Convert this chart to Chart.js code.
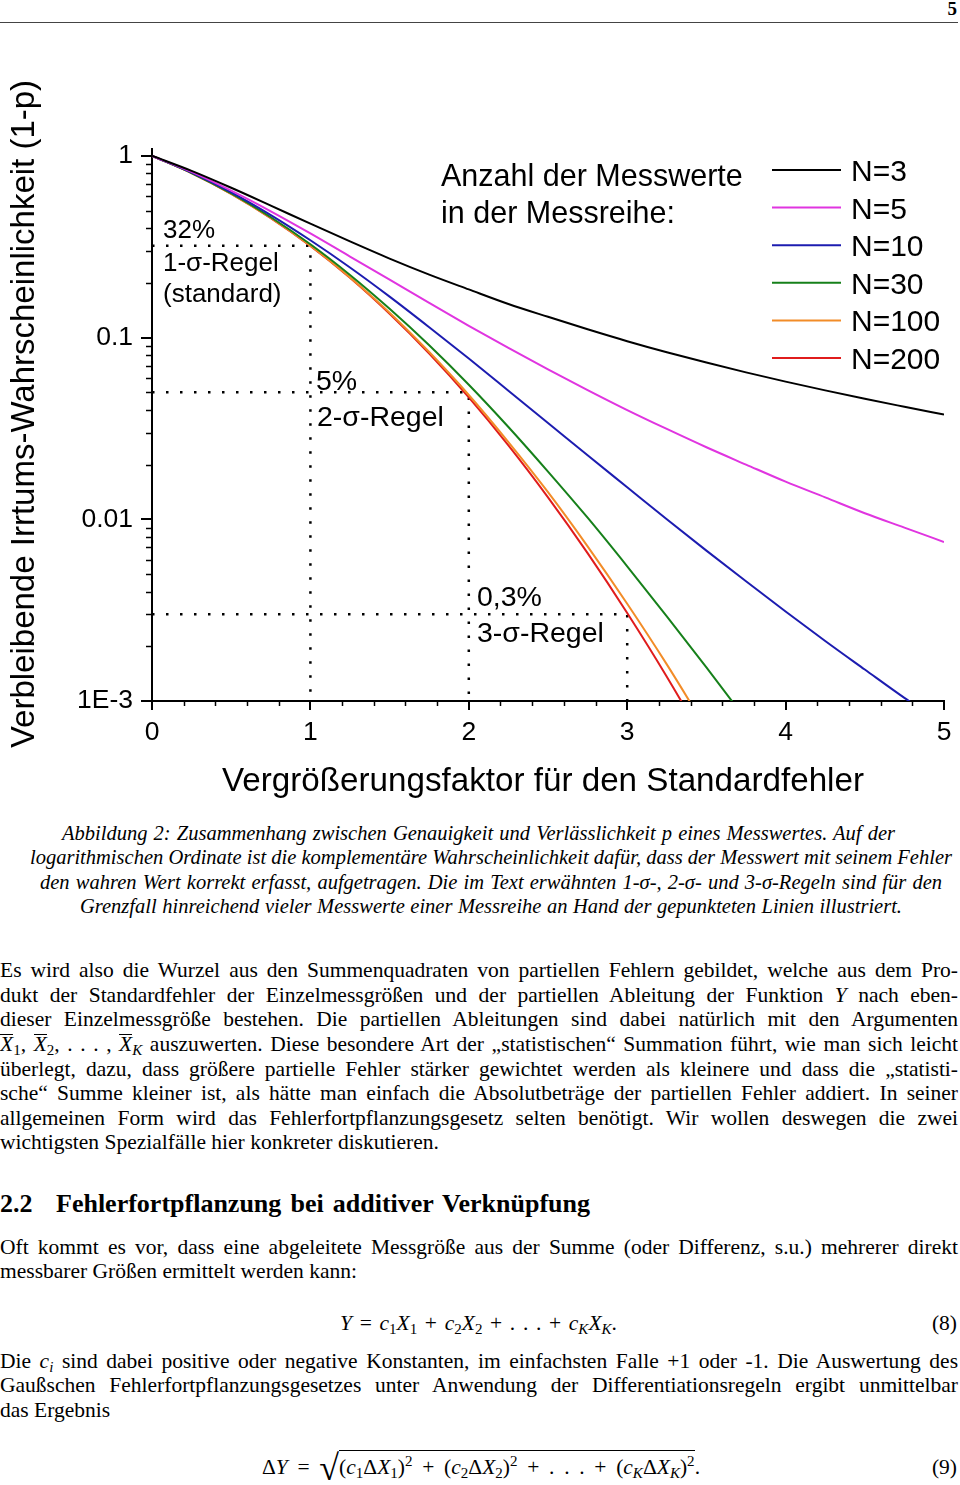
<!DOCTYPE html>
<html lang="de">
  <head>
    <meta charset="UTF-8" />
    <title>Abbildung 2 - Irrtumswahrscheinlichkeit</title>
    <script src="https://cdn.jsdelivr.net/npm/chart.js"></script>
    <style>
      body {
        margin: 0;
        width: 960px;
        height: 1485px;
        position: relative;
        background: #fff;
        color: #000;
        font-family: "Liberation Serif", "Times New Roman", serif;
        overflow: hidden;
      }

      #chartBox {
        position: absolute;
        left: 0;
        top: 0;
        width: 960px;
        height: 815px;
      }

      .ln {
        position: absolute;
        white-space: nowrap;
        font-size: 21.5px;
        line-height: 24px;
      }

      .cap {
        font-size: 20.5px;
        font-style: italic;
      }

      sub {
        font-size: 70%;
        vertical-align: -0.25em;
        line-height: 0;
      }

      sup {
        font-size: 70%;
        vertical-align: 0.5em;
        line-height: 0;
      }

      .xbar {
        display: inline-block;
        line-height: 0.85;
        border-top: 1px solid #000;
        font-style: italic;
      }
    </style>
  </head>
  <body>
    <div style="position:absolute;right:3px;top:-2px;font:bold 19px 'Liberation Serif',serif;">5</div>
    <div style="position:absolute;left:0;top:22px;width:958px;height:1px;background:#444;"></div>

    <div id="chartBox"><canvas id="errChart" width="960" height="815"></canvas></div>

    <!-- Bildunterschrift -->
    <div class="ln cap" data-w="833" style="left:62px;top:820.6px;">Abbildung 2: Zusammenhang zwischen Genauigkeit und Verlässlichkeit p eines Messwertes. Auf der</div>
    <div class="ln cap" data-w="922" style="left:30px;top:845.1px;">logarithmischen Ordinate ist die komplementäre Wahrscheinlichkeit dafür, dass der Messwert mit seinem Fehler</div>
    <div class="ln cap" data-w="902" style="left:40px;top:869.6px;">den wahren Wert korrekt erfasst, aufgetragen. Die im Text erwähnten 1-σ-, 2-σ- und 3-σ-Regeln sind für den</div>
    <div class="ln cap" data-w="822" style="left:80px;top:894.1px;">Grenzfall hinreichend vieler Messwerte einer Messreihe an Hand der gepunkteten Linien illustriert.</div>

    <!-- Fliesstext -->
    <div class="ln" data-w="958" style="left:0;top:958.2px;">Es wird also die Wurzel aus den Summenquadraten von partiellen Fehlern gebildet, welche aus dem Pro-</div>
    <div class="ln" data-w="958" style="left:0;top:982.8px;">dukt der Standardfehler der Einzelmessgrößen und der partiellen Ableitung der Funktion <i>Y</i> nach eben-</div>
    <div class="ln" data-w="958" style="left:0;top:1007.4px;">dieser Einzelmessgröße bestehen. Die partiellen Ableitungen sind dabei natürlich mit den Argumenten</div>
    <div class="ln" data-w="958" style="left:0;top:1032px;"><span class="xbar">X</span><sub>1</sub>, <span class="xbar">X</span><sub>2</sub>, . . . , <span class="xbar">X</span><sub><i>K</i></sub> auszuwerten. Diese besondere Art der „statistischen“ Summation führt, wie man sich leicht</div>
    <div class="ln" data-w="958" style="left:0;top:1056.6px;">überlegt, dazu, dass größere partielle Fehler stärker gewichtet werden als kleinere und dass die „statisti-</div>
    <div class="ln" data-w="958" style="left:0;top:1081.2px;">sche“ Summe kleiner ist, als hätte man einfach die Absolutbeträge der partiellen Fehler addiert. In seiner</div>
    <div class="ln" data-w="958" style="left:0;top:1105.8px;">allgemeinen Form wird das Fehlerfortpflanzungsgesetz selten benötigt. Wir wollen deswegen die zwei</div>
    <div class="ln" style="left:0;top:1130.4px;">wichtigsten Spezialfälle hier konkreter diskutieren.</div>

    <div class="ln" style="left:0;top:1190px;font-size:26px;line-height:28px;font-weight:bold;">2.2</div>
    <div class="ln" data-w="534" style="left:56px;top:1190px;font-size:26px;line-height:28px;font-weight:bold;">Fehlerfortpflanzung bei additiver Verknüpfung</div>

    <div class="ln" data-w="958" style="left:0;top:1234.5px;">Oft kommt es vor, dass eine abgeleitete Messgröße aus der Summe (oder Differenz, s.u.) mehrerer direkt</div>
    <div class="ln" style="left:0;top:1259.1px;">messbarer Größen ermittelt werden kann:</div>

    <div class="ln" data-w="277" style="left:340px;top:1310.5px;"><i>Y</i> = <i>c</i><sub>1</sub><i>X</i><sub>1</sub> + <i>c</i><sub>2</sub><i>X</i><sub>2</sub> + . . . + <i>c</i><sub><i>K</i></sub><i>X</i><sub><i>K</i></sub>.</div>
    <div class="ln" style="right:3px;top:1310.5px;">(8)</div>

    <div class="ln" data-w="958" style="left:0;top:1348.5px;">Die <i>c</i><sub><i>i</i></sub> sind dabei positive oder negative Konstanten, im einfachsten Falle +1 oder -1. Die Auswertung des</div>
    <div class="ln" data-w="958" style="left:0;top:1373.1px;">Gaußschen Fehlerfortpflanzungsgesetzes unter Anwendung der Differentiationsregeln ergibt unmittelbar</div>
    <div class="ln" style="left:0;top:1397.7px;">das Ergebnis</div>

    <div class="ln" data-w="438" style="left:262px;top:1454.5px;">Δ<i>Y</i> = <span style="font-size:36px;vertical-align:-6px;">√</span><span style="border-top:1px solid #000;padding-top:4px;">(<i>c</i><sub>1</sub>Δ<i>X</i><sub>1</sub>)<sup>2</sup> + (<i>c</i><sub>2</sub>Δ<i>X</i><sub>2</sub>)<sup>2</sup> + . . . + (<i>c</i><sub><i>K</i></sub>Δ<i>X</i><sub><i>K</i></sub>)<sup>2</sup></span>.</div>
    <div class="ln" style="right:3px;top:1454.5px;">(9)</div>

    <script>
      const xFactor = [0, 0.25, 0.5, 0.75, 1, 1.25, 1.5, 1.75, 2, 2.25, 2.5, 2.75, 3, 3.25, 3.5, 3.75, 4, 4.25, 4.5, 4.75, 5];

      const pN3 = [1, 0.826, 0.667, 0.532, 0.423, 0.338, 0.272, 0.222, 0.184, 0.153, 0.130, 0.111, 0.0955, 0.0830, 0.0728, 0.0643, 0.0572, 0.0512, 0.0460, 0.0416, 0.0377];
      const pN5 = [1, 0.815, 0.643, 0.495, 0.374, 0.279, 0.208, 0.155, 0.116, 0.0876, 0.0668, 0.0514, 0.0399, 0.0314, 0.0249, 0.0200, 0.0161, 0.0132, 0.0108, 0.0090, 0.0075];
      const pN10 = [1, 0.808, 0.629, 0.472, 0.343, 0.243, 0.168, 0.114, 0.0766, 0.0510, 0.0339, 0.0225, 0.0150, 0.0100, 0.00672, 0.00456, 0.00311, 0.00214, 0.00149, 0.00104, 0.00074];
      const pN30 = [1, 0.804, 0.621, 0.459, 0.326, 0.221, 0.144, 0.0907, 0.0550, 0.0322, 0.0183, 0.0102, 0.00551, 0.00292, 0.00153, 0.00079, 0.00040, null, null, null, null];
      const pN100 = [1, 0.803, 0.618, 0.455, 0.320, 0.214, 0.137, 0.0832, 0.0483, 0.0266, 0.0141, 0.0071, 0.00343, 0.00159, 0.00070, 0.00030, null, null, null, null, null];
      const pN200 = [1, 0.803, 0.617, 0.454, 0.319, 0.213, 0.135, 0.0816, 0.0468, 0.0255, 0.0132, 0.00651, 0.00305, 0.00136, 0.00057, 0.00022, null, null, null, null, null];

      const seriesLabels = ["N=3", "N=5", "N=10", "N=30", "N=100", "N=200"];
      const seriesColors = ["#000000", "#e035e0", "#1c1cb0", "#16801a", "#f28c28", "#e01c1c"];
      const seriesValues = [pN3, pN5, pN10, pN30, pN100, pN200];

      // gepunktete Linien fuer die 1-, 2- und 3-sigma-Regel
      const ruleLevels = [0.32, 0.05, 0.003];
      const ruleFactors = [1, 2, 3];

      const yMin = 0.001;
      const yMax = 1.09;
      const yTickValues = [1, 0.1, 0.01, 0.001];
      const yTickLabels = ["1", "0.1", "0.01", "1E-3"];

      const yMinorTicks = [];
      [0.001, 0.01, 0.1].forEach((d) => {
        for (let k = 2; k <= 9; k++) yMinorTicks.push(d * k);
      });
      const xMinorTicks = [];
      for (let i = 1; i < 25; i++) if (i % 5 !== 0) xMinorTicks.push(i / 5);

      const sans = '"Liberation Sans", Arial, sans-serif';
      Chart.defaults.font.family = sans;
      Chart.defaults.color = "#000";

      const curveSets = seriesValues.map((vals, i) => ({
        label: seriesLabels[i],
        data: xFactor.map((x, j) => ({ x: x, y: vals[j] })),
        borderColor: seriesColors[i],
        borderWidth: 2,
        pointRadius: 0,
        cubicInterpolationMode: "monotone",
        fill: false,
      }));

      const ruleSets = ruleLevels.map((lvl, i) => ({
        label: "",
        data: [
          { x: 0, y: lvl },
          { x: ruleFactors[i], y: lvl },
          { x: ruleFactors[i], y: yMin },
        ],
        borderColor: "#000",
        borderWidth: 2.5,
        borderDash: [2.5, 11.5],
        pointRadius: 0,
        tension: 0,
        fill: false,
      }));

      // Texte im Diagramm: [text, x, baseline, fontsize]
      const notes = [
        ["32%", 163, 238, 26],
        ["1-σ-Regel", 163, 271, 26],
        ["(standard)", 163, 302, 26],
        ["5%", 316, 390, 28.5],
        ["2-σ-Regel", 317, 426, 28.5],
        ["0,3%", 477, 606, 28.5],
        ["3-σ-Regel", 477, 642, 28.5],
        ["Anzahl der Messwerte", 441, 186, 30.5],
        ["in der Messreihe:", 441, 223, 30.5],
      ];

      const extras = {
        id: "extras",
        afterDraw(chart) {
          const ctx = chart.ctx;
          const xs = chart.scales.x;
          const ys = chart.scales.y;
          ctx.save();

          // kleine Teilstriche
          ctx.strokeStyle = "#000";
          ctx.lineWidth = 1.5;
          yMinorTicks.forEach((v) => {
            const py = Math.round(ys.getPixelForValue(v)) + 0.5;
            ctx.beginPath();
            ctx.moveTo(xs.left - 6, py);
            ctx.lineTo(xs.left, py);
            ctx.stroke();
          });
          xMinorTicks.forEach((v) => {
            const px = Math.round(xs.getPixelForValue(v)) + 0.5;
            ctx.beginPath();
            ctx.moveTo(px, ys.bottom);
            ctx.lineTo(px, ys.bottom + 5);
            ctx.stroke();
          });

          // Legende
          ctx.textAlign = "left";
          ctx.textBaseline = "alphabetic";
          ctx.font = "30px " + sans;
          curveSets.forEach((ds, i) => {
            const ly = 170 + i * 37.6;
            ctx.strokeStyle = ds.borderColor;
            ctx.lineWidth = 2;
            ctx.beginPath();
            ctx.moveTo(772, ly);
            ctx.lineTo(841, ly);
            ctx.stroke();
            ctx.fillStyle = "#000";
            ctx.fillText(ds.label, 851, ly + 11);
          });

          // Beschriftungen
          ctx.fillStyle = "#000";
          notes.forEach((n) => {
            ctx.font = n[3] + "px " + sans;
            ctx.fillText(n[0], n[1], n[2]);
          });

          // Achsentitel
          ctx.font = "33.2px " + sans;
          ctx.textAlign = "center";
          ctx.fillText("Vergrößerungsfaktor für den Standardfehler", 543, 791);
          ctx.translate(34, 414);
          ctx.rotate(-Math.PI / 2);
          ctx.font = "33px " + sans;
          ctx.fillText("Verbleibende Irrtums-Wahrscheinlichkeit (1-p)", 0, 0);

          ctx.restore();
        },
      };

      new Chart(document.getElementById("errChart"), {
        type: "line",
        data: { datasets: curveSets.concat(ruleSets) },
        options: {
          responsive: false,
          animation: false,
          devicePixelRatio: 1,
          layout: { padding: { top: 149, right: 16, left: 0, bottom: 0 } },
          plugins: {
            legend: { display: false },
            tooltip: { enabled: false },
          },
          scales: {
            x: {
              type: "linear",
              min: 0,
              max: 5,
              ticks: {
                stepSize: 1,
                padding: 7,
                maxRotation: 0,
                font: { size: 26.5 },
                color: "#000",
              },
              grid: {
                display: true,
                drawOnChartArea: false,
                drawTicks: true,
                tickLength: 9,
                color: "#000",
                lineWidth: 2,
              },
              border: { display: true, color: "#000", width: 2 },
              afterFit: (s) => {
                s.height = 114;
              },
            },
            y: {
              type: "logarithmic",
              min: yMin,
              max: yMax,
              afterBuildTicks: (s) => {
                s.ticks = yTickValues.map((v) => ({ value: v }));
              },
              ticks: {
                padding: 8,
                font: { size: 26.5 },
                color: "#000",
                callback: (v) => yTickLabels[yTickValues.indexOf(v)],
              },
              grid: {
                display: true,
                drawOnChartArea: false,
                drawTicks: true,
                tickLength: 11,
                color: "#000",
                lineWidth: 2,
              },
              border: { display: true, color: "#000", width: 2 },
              afterFit: (s) => {
                s.width = 152;
              },
            },
          },
        },
        plugins: [extras],
      });

      // Zeilen im Blocksatz auf die gemessene Breite bringen
      document.querySelectorAll("[data-w]").forEach((el) => {
        const target = parseFloat(el.dataset.w);
        const natural = el.getBoundingClientRect().width;
        const spaces = (el.textContent.match(/ /g) || []).length;
        if (spaces) el.style.wordSpacing = (target - natural) / spaces + "px";
      });
    </script>
  </body>
</html>
